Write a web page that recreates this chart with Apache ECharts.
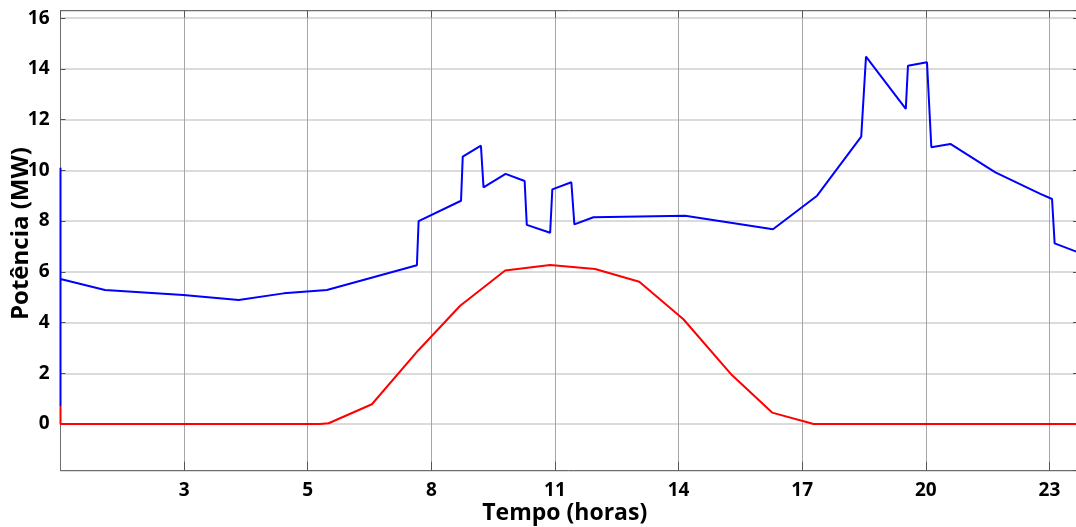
<!DOCTYPE html>
<html><head><meta charset="utf-8">
<script src="https://cdn.jsdelivr.net/npm/echarts@6/dist/echarts.min.js"></script>
<style>html,body{margin:0;padding:0;background:#fff}#c{width:1076px;height:527px}</style>
</head><body><div id="c"></div>
<script>
// Tick labels
const xTickLabels = ['3','5','8','11','14','17','20','23'];
const yTickLabels = ['0','2','4','6','8','10','12','14','16'];

// Blue series (hours, MW)
const blueHours = [0.143, 0.143, 0.143, 1.17, 2.98, 4.26, 5.30, 6.30, 8.38, 8.42, 9.40, 9.44, 9.86, 9.92, 10.43, 10.87, 10.92, 11.46, 11.51, 11.95, 12.02, 12.46, 14.58, 16.61, 17.63, 18.65, 18.76, 19.68, 19.73, 20.17, 20.27, 20.71, 21.75, 22.79, 23.06, 23.12, 23.66];
const blueMW    = [10.1, 0.7, 5.72, 5.28, 5.09, 4.89, 5.15, 5.28, 6.26, 8.0, 8.8, 10.54, 10.97, 9.33, 9.86, 9.58, 7.85, 7.54, 9.25, 9.53, 7.87, 8.15, 8.21, 7.68, 9.0, 11.33, 14.48, 12.42, 14.12, 14.26, 10.91, 11.04, 9.92, 9.07, 8.87, 7.12, 6.77];

// Red series (hours, MW)
const redHours = [0.143, 0.143, 6.14, 6.34, 7.34, 8.41, 9.38, 10.42, 11.46, 12.50, 13.52, 14.54, 15.66, 16.59, 17.55, 23.66];
const redMW    = [0.7, 0, 0, 0.03, 0.78, 2.9, 4.66, 6.05, 6.27, 6.11, 5.61, 4.13, 1.93, 0.45, 0, 0];

const xMin = 1/7, xInterval = 20/7, xMax = 23.66;
const yMin = -1.84, yMax = 16.3;

const font = 'Open Sans';
function xFmt(v){
  const k = (v - xMin) / xInterval, r = Math.round(k);
  if (Math.abs(k - r) > 0.01) return '';
  return xTickLabels[r - 1] || '';
}
function yFmt(v){
  const r = Math.round(v / 2);
  if (Math.abs(v - r * 2) > 1e-6) return '';
  return yTickLabels[r] || '';
}
const pair = (xs, ys) => xs.map((x, i) => [x, ys[i]]);

const axisLineStyle = { color: '#6e6e6e', width: 1 };
const labelStyle = { color: '#000', fontFamily: font, fontWeight: 'bold', fontSize: 19 };

const chart = echarts.init(document.getElementById('c'), null, { renderer: 'canvas' });
chart.setOption({
  animation: false,
  backgroundColor: '#fff',
  grid: { left: 60.5, right: -2, top: 10.5, bottom: 56.3, containLabel: false, outerBoundsMode: 'none' },
  xAxis: [{
    type: 'value', position: 'bottom', min: xMin, max: xMax, interval: xInterval,
    axisLine: { show: true, onZero: false, lineStyle: axisLineStyle },
    axisTick: { show: true, inside: true, length: 9, lineStyle: { color: '#555' } },
    axisLabel: Object.assign({ formatter: xFmt, margin: 10, showMinLabel: false, showMaxLabel: false }, labelStyle),
    splitLine: { show: true, lineStyle: { color: '#a6a6a6', width: 1 } },
    name: 'Tempo (horas)', nameLocation: 'middle', nameGap: 31, nameMoveOverlap: false,
    nameTextStyle: { color: '#000', fontFamily: font, fontWeight: 'bold', fontSize: 23, padding: [0, 9, 0, 0] }
  }, {
    type: 'value', position: 'top', min: xMin, max: xMax, interval: xInterval,
    axisLine: { show: true, onZero: false, lineStyle: axisLineStyle },
    axisTick: { show: true, inside: true, length: 7, lineStyle: { color: '#555' } },
    axisLabel: { show: false }, splitLine: { show: false }
  }],
  yAxis: [{
    type: 'value', position: 'left', min: yMin, max: yMax, splitNumber: 9,
    axisLine: { show: true, onZero: false, lineStyle: axisLineStyle },
    axisTick: { show: true, inside: true, length: 5, lineStyle: { color: '#555' } },
    axisLabel: Object.assign({ formatter: yFmt, margin: 11, showMinLabel: false, showMaxLabel: false }, labelStyle),
    splitLine: { show: true, lineStyle: { color: '#cfcfcf', width: 1.5 } },
    name: 'Potência (MW)', nameLocation: 'middle', nameGap: 27, nameMoveOverlap: false,
    nameTextStyle: { color: '#000', fontFamily: font, fontWeight: 'bold', fontSize: 24, padding: [0, 0, 0, 14] }
  }, {
    type: 'value', position: 'right', min: yMin, max: yMax, splitNumber: 9,
    axisLine: { show: true, onZero: false, lineStyle: axisLineStyle },
    axisTick: { show: true, inside: true, length: 5, lineStyle: { color: '#555' } },
    axisLabel: { show: false }, splitLine: { show: false }
  }],
  series: [{
    type: 'line', xAxisIndex: 0, yAxisIndex: 0, data: pair(blueHours, blueMW),
    showSymbol: false, symbol: 'none', lineStyle: { color: '#0000ff', width: 2 }, itemStyle: { color: '#0000ff' }, z: 3
  }, {
    type: 'line', xAxisIndex: 0, yAxisIndex: 0, data: pair(redHours, redMW),
    showSymbol: false, symbol: 'none', lineStyle: { color: '#ff0000', width: 2 }, itemStyle: { color: '#ff0000' }, z: 4
  }]
});
</script></body></html>
